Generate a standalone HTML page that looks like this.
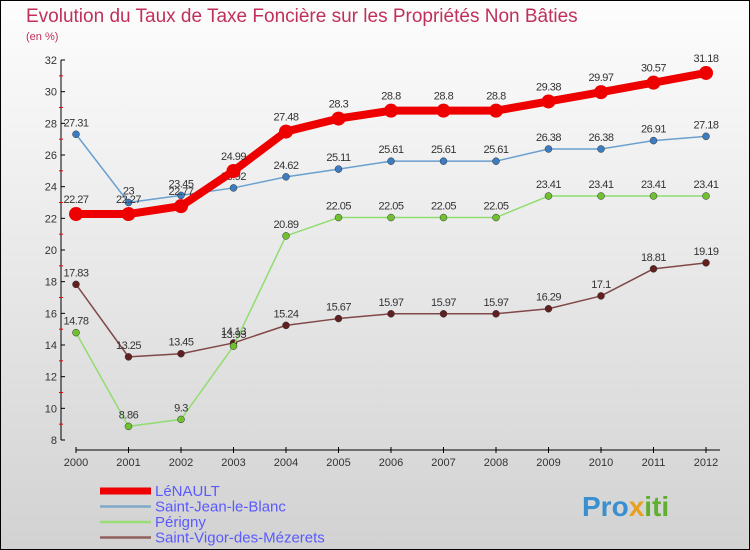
<!DOCTYPE html>
<html><head><meta charset="utf-8"><style>
body{margin:0}
svg{display:block;font-family:"Liberation Sans",sans-serif}
</style></head><body>
<svg width="750" height="550" viewBox="0 0 750 550">
<defs><linearGradient id="bg" x1="0" y1="0" x2="0" y2="1"><stop offset="0" stop-color="#fdfdfd"/><stop offset="1" stop-color="#d2d2d2"/></linearGradient></defs>
<rect x="0.5" y="0.5" width="749" height="549" fill="url(#bg)" stroke="#000"/>
<text x="26" y="22" font-size="19" fill="#c0305a">Evolution du Taux de Taxe Foncière sur les Propriétés Non Bâties</text>
<text x="26" y="40" font-size="11" fill="#c0305a">(en %)</text>
<g id="axes"></g><g id="series"></g><g id="legend"></g>
<text x="582" y="516" font-size="28" font-weight="bold" fill="#3a8fd0">Pro<tspan fill="#e8a020">x</tspan><tspan fill="#60b030">iti</tspan></text>
</svg>
<script>
const years=[2000,2001,2002,2003,2004,2005,2006,2007,2008,2009,2010,2011,2012];
const yTicks=[8,10,12,14,16,18,20,22,24,26,28,30,32];
const seriesNames=["LéNAULT","Saint-Jean-le-Blanc","Périgny","Saint-Vigor-des-Mézerets"];
const lenault=[22.27,22.27,22.77,24.99,27.48,28.3,28.8,28.8,28.8,29.38,29.97,30.57,31.18];
const stjean=[27.31,23,23.45,23.92,24.62,25.11,25.61,25.61,25.61,26.38,26.38,26.91,27.18];
const perigny=[14.78,8.86,9.3,13.93,20.89,22.05,22.05,22.05,22.05,23.41,23.41,23.41,23.41];
const stvigor=[17.83,13.25,13.45,14.13,15.24,15.67,15.97,15.97,15.97,16.29,17.1,18.81,19.19];
const NS="http://www.w3.org/2000/svg";
const X=i=>76+i*52.5, Y=v=>440-(v-8)*(380/24);
function mk(t,a,p,txt){const e=document.createElementNS(NS,t);for(const k in a)e.setAttribute(k,a[k]);if(txt!==undefined)e.textContent=txt;p.appendChild(e);return e;}
const ax=document.getElementById('axes');
let e=mk('line',{x1:61,y1:60,x2:61,y2:440,stroke:'#000'},ax);

e=mk('line',{x1:76,y1:450,x2:720,y2:450,stroke:'#000'},ax);

yTicks.forEach(v=>{mk('line',{x1:61,y1:Y(v),x2:65,y2:Y(v),stroke:'#000'},ax);
 if(v<32)mk('line',{x1:59,y1:Y(v+1),x2:63,y2:Y(v+1),stroke:'#e00'},ax);
 e=mk('text',{x:57,y:Y(v)+4,'font-size':11,'text-anchor':'end',fill:'#333'},ax,v);
 });
years.forEach((y,i)=>{mk('line',{x1:X(i),y1:447,x2:X(i),y2:453,stroke:'#000'},ax);
 e=mk('text',{x:X(i),y:466,'font-size':11,'text-anchor':'middle',fill:'#333'},ax,y);
 });
const sg=document.getElementById('series');
const defs=[[lenault,'#ee0000',8,7,'#ee0000'],[stjean,'#6aa0d0',1.5,3.5,'#3c7cc0'],[perigny,'#90dd70',1.5,3.5,'#70c030'],[stvigor,'#804848',1.5,3.5,'#602020']];
const order=[3,2,1,0];
order.forEach(k=>{const [d,c,w,r,fc]=defs[k];
 const g=mk('g',{},sg);
 e=mk('polyline',{points:d.map((v,i)=>X(i)+','+Y(v)).join(' '),fill:'none',stroke:c,'stroke-width':w,'stroke-linejoin':'round'},g);
 
 d.forEach((v,i)=>{e=mk('circle',{cx:X(i),cy:Y(v),r:r,fill:fc,stroke:k==0?'none':'#333','stroke-width':0.5},g);
  
  e=mk('text',{x:X(i),y:Y(v)-8-(k==0?3:0),'font-size':11,'text-anchor':'middle',fill:'#333','letter-spacing':'-0.5'},g,v);
  });});
const lg=document.getElementById('legend');
const lc=['#ee0000','#80a8c8','#99dd77','#906060'],lw=[7,2.5,2.5,2.5];
seriesNames.forEach((n,k)=>{const y=491+k*15.5;
 const g=mk('g',{},lg);
 mk('line',{x1:100,y1:y,x2:151,y2:y,stroke:lc[k],'stroke-width':lw[k]},g);
 mk('text',{x:155,y:y+5,'font-size':15,fill:'#5a5aff'},g,n);});
</script>
</body></html>
